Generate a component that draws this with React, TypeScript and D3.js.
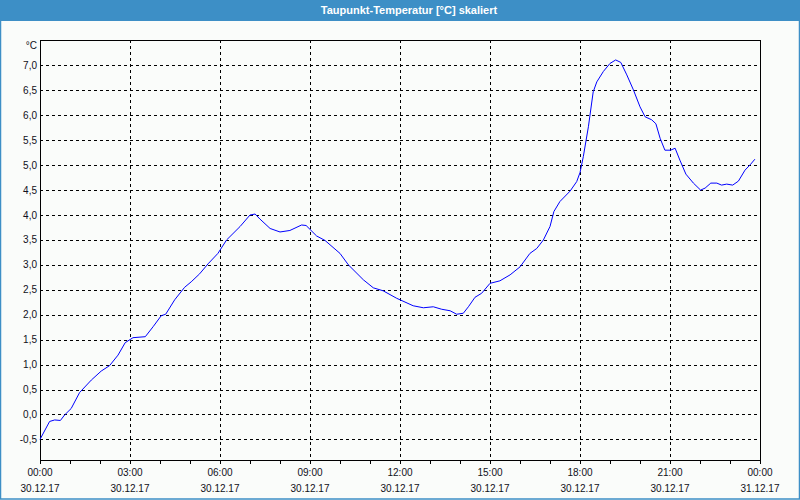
import { useEffect, useRef } from 'react';
import * as d3 from 'd3';

// time of day in hours (30.12.17) and dew point in °C
const hours = [
  0.0, 0.32, 0.49, 0.68, 0.82, 1.04, 1.32, 1.71, 2.04, 2.32, 2.6, 2.84, 3.1, 3.51, 3.77, 4.04, 4.19,
  4.49, 4.82, 5.04, 5.32, 5.6, 5.93, 6.22, 6.67, 7.0, 7.17, 7.33, 7.67, 8.0, 8.33, 8.72, 8.87, 9.22,
  9.5, 10.0, 10.28, 10.78, 11.11, 11.44, 11.89, 12.44, 12.78, 13.11, 13.39, 13.67, 13.89, 14.11,
  14.28, 14.5, 14.72, 15.0, 15.33, 15.67, 16.0, 16.33, 16.56, 16.78, 17.0, 17.13, 17.33, 17.67,
  17.89, 18.0, 18.11, 18.28, 18.44, 18.56, 18.78, 19.0, 19.19, 19.36, 19.56, 19.78, 20.0, 20.17,
  20.39, 20.53, 20.67, 20.83, 21.02, 21.17, 21.33, 21.53, 21.78, 22.02, 22.17, 22.36, 22.56, 22.72,
  22.89, 23.09, 23.28, 23.5, 23.69, 23.83,
];
const dewPoint = [
  -0.5, -0.14, -0.11, -0.12, -0.01, 0.12, 0.44, 0.69, 0.87, 0.98, 1.19, 1.44, 1.54, 1.56, 1.76, 1.98,
  2.01, 2.3, 2.55, 2.66, 2.82, 3.02, 3.23, 3.5, 3.77, 4.0, 4.02, 3.92, 3.73, 3.66, 3.69, 3.8, 3.79,
  3.58, 3.49, 3.23, 3.0, 2.7, 2.54, 2.48, 2.33, 2.18, 2.14, 2.16, 2.11, 2.08, 2.01, 2.03, 2.16, 2.35,
  2.43, 2.63, 2.68, 2.8, 2.96, 3.23, 3.33, 3.5, 3.77, 4.07, 4.27, 4.48, 4.67, 4.85, 5.17, 5.77, 6.47,
  6.67, 6.88, 7.04, 7.11, 7.06, 6.81, 6.51, 6.17, 5.97, 5.91, 5.83, 5.54, 5.3, 5.3, 5.34, 5.1, 4.82,
  4.64, 4.5, 4.54, 4.64, 4.64, 4.6, 4.62, 4.6, 4.68, 4.9, 5.02, 5.12,
];

const tickHours = [0, 3, 6, 9, 12, 15, 18, 21, 24];
const timeLabels = ['00:00', '03:00', '06:00', '09:00', '12:00', '15:00', '18:00', '21:00', '00:00'];
const dateLabels = ['30.12.17', '30.12.17', '30.12.17', '30.12.17', '30.12.17', '30.12.17', '30.12.17', '30.12.17', '31.12.17'];
const yTicks = [-0.5, 0, 0.5, 1, 1.5, 2, 2.5, 3, 3.5, 4, 4.5, 5, 5.5, 6, 6.5, 7];

const title = 'Taupunkt-Temperatur [°C] skaliert';

const App = () => {
  const chartRef = useRef<SVGSVGElement | null>(null);

  useEffect(() => {
    if (!chartRef.current) return;
    const svg = d3.select(chartRef.current);
    svg.selectAll('*').remove();

    const W = 800, H = 500;
    const plot = { left: 40, right: 760, top: 40, bottom: 460 };
    const font = '"Liberation Sans", Arial, sans-serif';

    // background + frame
    svg.append('rect').attr('width', W).attr('height', H).attr('fill', '#fafcfa');
    svg.append('rect')
      .attr('x', 0.5).attr('y', 0.5).attr('width', W - 1).attr('height', H - 1.5)
      .attr('fill', 'none').attr('stroke', '#3d8fc6').attr('stroke-width', 1.5);

    // title bar
    svg.append('rect').attr('width', W).attr('height', 21).attr('fill', '#3d8fc6');
    svg.append('text')
      .attr('x', 409).attr('y', 13.5)
      .attr('text-anchor', 'middle')
      .attr('fill', '#ffffff')
      .style('font', `bold 11px ${font}`)
      .text(title);

    const x = d3.scaleLinear().domain([0, 24]).range([plot.left, plot.right]);
    const y = d3.scaleLinear().domain([-0.913, 7.51]).range([plot.bottom, plot.top]);
    const px = (v: number) => Math.round(v) + 0.5;

    const grid = svg.append('g')
      .attr('stroke', '#000')
      .attr('stroke-width', 1)
      .attr('stroke-dasharray', '3,3')
      .attr('shape-rendering', 'crispEdges');

    // horizontal grid
    grid.selectAll('.hgrid')
      .data(yTicks)
      .enter().append('line')
      .attr('x1', plot.left).attr('x2', plot.right)
      .attr('y1', d => px(y(d))).attr('y2', d => px(y(d)));

    // vertical grid
    grid.selectAll('.vgrid')
      .data(tickHours.slice(1, -1))
      .enter().append('line')
      .attr('y1', plot.top).attr('y2', plot.bottom)
      .attr('x1', d => px(x(d))).attr('x2', d => px(x(d)));

    // plot frame
    svg.append('rect')
      .attr('x', plot.left + 0.5).attr('y', plot.top + 0.5)
      .attr('width', plot.right - plot.left).attr('height', plot.bottom - plot.top)
      .attr('fill', 'none').attr('stroke', '#000').attr('shape-rendering', 'crispEdges');

    // hourly ticks below the x axis
    svg.append('g')
      .selectAll('line')
      .data(d3.range(0, 25))
      .enter().append('line')
      .attr('x1', d => px(x(d))).attr('x2', d => px(x(d)))
      .attr('y1', plot.bottom).attr('y2', plot.bottom + 4)
      .attr('stroke', '#000').attr('shape-rendering', 'crispEdges');

    // x labels
    const xl = svg.append('g')
      .attr('fill', '#101020')
      .attr('text-anchor', 'middle')
      .style('font', `10px ${font}`);
    xl.selectAll('.time')
      .data(tickHours)
      .enter().append('text')
      .attr('x', d => x(d)).attr('y', 476)
      .text((_, i) => timeLabels[i]);
    xl.selectAll('.date')
      .data(tickHours)
      .enter().append('text')
      .attr('x', d => x(d)).attr('y', 492)
      .text((_, i) => dateLabels[i]);

    // y labels
    const yl = svg.append('g')
      .attr('fill', '#101020')
      .attr('text-anchor', 'end')
      .style('font', `10px ${font}`);
    yl.selectAll('text')
      .data(yTicks)
      .enter().append('text')
      .attr('x', 37).attr('y', d => y(d) + 3.5)
      .text(d => d3.format('.1f')(d).replace('.', ',').replace('−', '-'));
    yl.append('text').attr('x', 37).attr('y', 48.5).text('°C');

    // line
    const line = d3.line<number>()
      .x(d => x(d))
      .y((_, i) => y(dewPoint[i]));
    svg.append('path')
      .datum(hours)
      .attr('d', line)
      .attr('fill', 'none')
      .attr('stroke', '#0000ff')
      .attr('stroke-width', 1);
  }, []);

  return (
    <svg
      ref={chartRef}
      width={800}
      height={500}
      style={{ position: 'absolute', left: 0, top: 0, display: 'block' }}
    />
  );
};

export default App;
